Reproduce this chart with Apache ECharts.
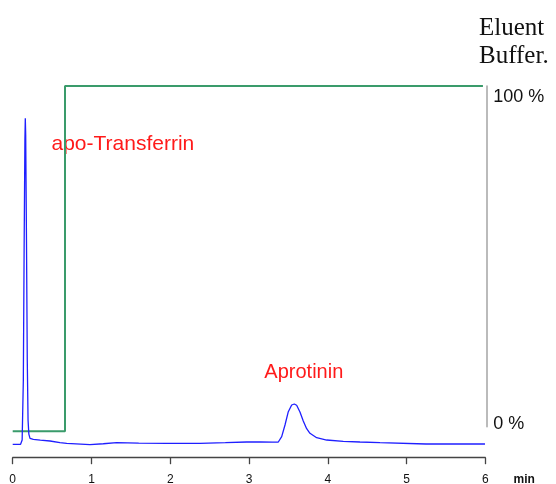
<!DOCTYPE html>
<html>
<head>
<meta charset="utf-8">
<script src="https://cdn.jsdelivr.net/npm/echarts@6/dist/echarts.min.js"></script>
<style>
html,body{margin:0;padding:0;background:#fff;}
#chart{width:556px;height:484px;}
</style>
</head>
<body>
<div id="chart"></div>
<script>
// Time axis ticks (min)
const xTicks = [0, 1, 2, 3, 4, 5, 6];
// Right axis tick labels (eluent buffer %)
const bufferTickLabels = {0: '0 %', 100: '100 %'};

// UV trace (time in min, signal in arbitrary units)
const uvTime = [0, 0.10, 0.12, 0.135, 0.145, 0.155, 0.16, 0.165, 0.175, 0.185, 0.195, 0.205, 0.22, 0.262, 0.35, 0.474, 0.6, 0.686, 0.981, 1.15, 1.32, 1.6, 1.955, 2.378, 2.7, 2.971, 3.14, 3.30, 3.372, 3.415, 3.457, 3.499, 3.542, 3.575, 3.605, 3.647, 3.689, 3.732, 3.774, 3.859, 3.986, 4.197, 4.409, 4.663, 5.247, 5.996];
const uvSignal = [-0.25, -0.25, 0.95, 17.7, 54.1, 84.9, 91.0, 86.3, 56.9, 23.3, 6.5, 2.6, 1.4, 1.15, 0.9, 0.67, 0.2, 0.03, -0.36, -0.1, 0.2, 0.1, 0.03, 0.03, 0.2, 0.39, 0.39, 0.35, 0.39, 1.88, 5.15, 8.87, 10.75, 11.03, 10.66, 8.79, 6.27, 4.11, 2.83, 1.60, 0.95, 0.59, 0.39, 0.2, -0.17, -0.17];

// Eluent buffer gradient (time in min, % buffer)
const bufferTime = [0, 0.664, 0.664, 5.97];
const bufferPct = [0, 0, 100, 100];

// Peak annotations
const peakNames = ['apo-Transferrin', 'Aprotinin'];

const uvData = uvTime.map((t, i) => [t, uvSignal[i]]);
const bufferData = bufferTime.map((t, i) => [t, bufferPct[i]]);

const chart = echarts.init(document.getElementById('chart'), null, {renderer: 'canvas'});
chart.setOption({
  animation: false,
  backgroundColor: '#ffffff',
  grid: [
    {left: 12.7, top: 86, width: 472.6, height: 371.7, outerBoundsMode: 'none', containLabel: false},
    {left: 12.7, top: 86, width: 474, height: 340.7, outerBoundsMode: 'none', containLabel: false}
  ],
  xAxis: [
    {
      gridIndex: 0, type: 'value', min: xTicks[0], max: xTicks[xTicks.length - 1], interval: 1,
      axisLine: {show: true, onZero: false, lineStyle: {color: '#444', width: 1.3}},
      axisTick: {show: true, length: 6.5, lineStyle: {color: '#444', width: 1.3}},
      axisLabel: {color: '#111', fontSize: 12, fontFamily: 'Liberation Sans, Arial, sans-serif', margin: 16},
      splitLine: {show: false},
      name: '{m|min}', nameLocation: 'end', nameGap: 28.3,
      nameTextStyle: {
        align: 'left', verticalAlign: 'middle',
        rich: {m: {color: '#111', fontWeight: 'bold', fontSize: 12, fontFamily: 'Liberation Sans, Arial, sans-serif', padding: [44, 0, 0, 0]}}
      }
    },
    {gridIndex: 1, type: 'value', min: 0, max: 1, show: false}
  ],
  yAxis: [
    {gridIndex: 0, type: 'value', min: -4, max: 100, show: false},
    {gridIndex: 0, type: 'value', min: -7.65, max: 100, show: false},
    {
      gridIndex: 1, type: 'value', position: 'right', min: 0, max: 100, interval: 100,
      axisLine: {show: true, onZero: false, lineStyle: {color: '#aaaaaa', width: 1.6}},
      axisTick: {show: false},
      splitLine: {show: false},
      axisLabel: {
        margin: 6.5, color: '#111',
        formatter: v => v === 100 ? '{t|' + bufferTickLabels[100] + '}' : '{b|' + bufferTickLabels[0] + '}',
        rich: {
          t: {fontSize: 18, fontFamily: 'Liberation Sans, Arial, sans-serif', color: '#111', padding: [22, 0, 0, 0]},
          b: {fontSize: 18, fontFamily: 'Liberation Sans, Arial, sans-serif', color: '#111', padding: [0, 0, 6, 0]}
        }
      }
    }
  ],
  graphic: [
    {type: 'text', left: 479, top: 16, style: {text: 'Eluent', font: '25px "Liberation Serif", "Times New Roman", serif', fill: '#111'}},
    {type: 'text', left: 479, top: 44, style: {text: 'Buffer.', font: '25px "Liberation Serif", "Times New Roman", serif', fill: '#111'}},
    {type: 'text', x: 122.9, y: 144, style: {text: peakNames[0], font: '21px "Liberation Sans", Arial, sans-serif', fill: '#ff1a1a', align: 'center', verticalAlign: 'middle'}},
    {type: 'text', x: 303.8, y: 372, style: {text: peakNames[1], font: '20px "Liberation Sans", Arial, sans-serif', fill: '#ff1a1a', align: 'center', verticalAlign: 'middle'}}
  ],
  series: [
    {
      type: 'line', xAxisIndex: 0, yAxisIndex: 1, data: bufferData, showSymbol: false,
      lineStyle: {color: '#3a9b6b', width: 2}, silent: true, z: 2
    },
    {
      type: 'line', xAxisIndex: 0, yAxisIndex: 0, data: uvData, showSymbol: false,
      lineStyle: {color: '#1f1fff', width: 1.3}, silent: true, z: 3
    }
  ]
});
</script>
</body>
</html>
